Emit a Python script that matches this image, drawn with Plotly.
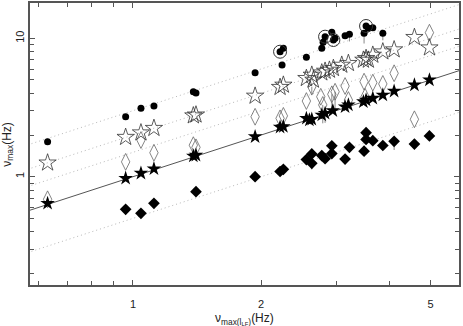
import plotly.graph_objects as go

# filled circles
circ_x = [0.630, 0.961, 1.044, 1.12, 1.386, 1.406, 1.936, 2.216, 2.256, 2.24, 2.555,
          2.777, 2.797, 2.827, 2.932, 2.957, 2.984, 3.150, 3.225, 3.491, 3.529, 3.573,
          3.660, 3.864]
circ_y = [1.79, 2.71, 3.12, 3.24, 4.11, 4.02, 5.64, 8.00, 8.47, 6.41, 7.29,
          8.47, 9.36, 10.27, 11.05, 9.72, 10.0, 10.44, 10.69, 10.87, 12.27, 11.81,
          11.93, 10.87]
circ_err = [0, 0, 0, 0, 0, 0, 0, 0, 0, 0, 0,
            0, 0, 0, 0, 0, 0, 0, 1.2, 1.7, 0, 0,
            0, 1.2]
# circles with an extra ring
ring_x = [2.216, 2.827, 2.957, 3.529]
ring_y = [8.00, 10.27, 9.72, 12.27]

# open stars
ostar_x = [0.630, 0.961, 1.044, 1.12, 1.386, 1.406, 1.936, 2.216, 2.256, 2.555, 2.631,
           2.654, 2.777, 2.827, 2.894, 2.957, 3.094, 3.207, 3.478, 3.529, 3.573, 3.660,
           3.864, 4.107, 4.584, 4.972]
ostar_y = [1.26, 1.93, 2.08, 2.24, 2.76, 2.80, 3.83, 4.43, 4.60, 5.14, 5.43,
           5.00, 5.64, 5.80, 5.90, 6.07, 6.41, 6.60, 6.97, 7.17, 6.97, 7.57,
           8.00, 8.28, 10.17, 8.55]

# open diamonds
odia_x = [0.630, 0.961, 1.044, 1.12, 1.386, 1.406, 1.936, 2.216, 2.256, 2.555, 2.631,
          2.762, 2.792, 2.932, 2.984, 3.150, 3.207, 3.491, 3.51, 3.660, 3.864, 4.107,
          4.972, 4.584]
odia_y = [0.687, 1.28, 1.84, 1.49, 1.69, 1.63, 2.71, 2.64, 2.75, 3.52, 4.47,
          3.78, 3.30, 3.94, 4.11, 4.52, 3.58, 4.86, 3.78, 4.78, 4.68, 5.59,
          10.98, 2.60]
odia_err = [0, 0, 0, 0, 0, 0, 0, 0, 0, 0, 0.5,
            0, 0.87, 1.07, 1.16, 0, 0.38, 0, 0.39, 0, 0, 0,
            0, 0]

# filled stars
fstar_x = [0.630, 0.961, 1.044, 1.12, 1.386, 1.406, 1.936, 2.216, 2.256, 2.555, 2.597,
           2.631, 2.777, 2.827, 2.948, 3.150, 3.207, 3.478, 3.529, 3.660, 3.864, 4.107,
           4.584, 4.972]
fstar_y = [0.642, 0.974, 1.06, 1.14, 1.41, 1.43, 1.945, 2.28, 2.30, 2.64, 2.57,
           2.60, 2.79, 2.87, 3.00, 3.20, 3.30, 3.48, 3.58, 3.69, 3.89, 4.15,
           4.60, 5.00]
fstar_err = [0, 0, 0, 0, 0, 0, 0, 0, 0, 0, 0,
             0, 0, 0.42, 0, 0, 0, 0, 0, 0, 0, 0,
             0, 0]

# filled diamonds
fdia_x = [0.961, 1.044, 1.12, 1.406, 1.936, 2.216, 2.256, 2.555, 2.631, 2.631, 2.777,
          2.827, 2.932, 2.932, 3.150, 3.225, 3.491, 3.529, 3.529, 3.660, 3.864, 4.107,
          4.584, 4.972]
fdia_y = [0.581, 0.544, 0.642, 0.779, 1.00, 1.09, 1.13, 1.33, 1.46, 1.25, 1.42,
          1.35, 1.67, 1.47, 1.34, 1.63, 1.53, 2.08, 1.86, 1.82, 1.68, 1.80,
          1.72, 1.97]
fdia_err = [0, 0, 0, 0, 0, 0, 0, 0, 0, 0.12, 0,
            0, 0, 0, 0, 0, 0, 0, 0, 0, 0, 0.24,
            0, 0]

# reference lines y = k * x
line_k = [3, 2, 1.5, 1, 0.5]
line_x = [0.5, 7]

fig = go.Figure()

for k in line_k:
   if k == 1:
      ln = dict(color="#555555", width=1)
   else:
      ln = dict(color="#b8b8b8", width=1, dash="1px,3px")
   fig.add_trace(go.Scatter(x=line_x, y=[k * v for v in line_x], mode="lines",
                            line=ln, hoverinfo="skip"))

def err(vals):
   return dict(type="data", symmetric=False, array=[0] * len(vals), arrayminus=vals,
               color="#888888", thickness=1, width=0)

fig.add_trace(go.Scatter(x=fdia_x, y=fdia_y, mode="markers", error_y=err(fdia_err),
                         marker=dict(symbol="diamond", size=9, color="black")))
fig.add_trace(go.Scatter(x=odia_x, y=odia_y, mode="markers", error_y=err(odia_err),
                         marker=dict(symbol="diamond-tall-open", size=12, color="#666666",
                                     line=dict(width=0.8))))
fig.add_trace(go.Scatter(x=fstar_x, y=fstar_y, mode="markers", error_y=err(fstar_err),
                         marker=dict(symbol="star", size=11, color="black")))
fig.add_trace(go.Scatter(x=ostar_x, y=ostar_y, mode="markers",
                         marker=dict(symbol="star-open", size=13, color="#333333",
                                     line=dict(width=0.8))))
fig.add_trace(go.Scatter(x=circ_x, y=circ_y, mode="markers", error_y=err(circ_err),
                         marker=dict(symbol="circle", size=7, color="black")))
fig.add_trace(go.Scatter(x=ring_x, y=ring_y, mode="markers",
                         marker=dict(symbol="circle-open", size=13, color="#333333",
                                     line=dict(width=1))))

axis_common = dict(type="log", showline=True, linecolor="#555555", linewidth=1.5,
                   mirror="allticks", ticks="inside", ticklen=5, tickcolor="#555555",
                   showgrid=False, zeroline=False, automargin=False,
                   tickfont=dict(family="Liberation Sans, Arial", size=11, color="#222"))

fig.update_layout(
   width=463, height=326,
   margin=dict(l=30, r=4, t=3, b=41),
   plot_bgcolor="white", paper_bgcolor="white",
   showlegend=False,
   font=dict(family="Liberation Sans, Arial", color="#222"),
   xaxis=dict(axis_common, range=[-0.242, 0.766],
              tickvals=[1, 2, 5], ticktext=["1", "2", "5"], ticklabelstandoff=8,
              minor=dict(tickvals=[0.6, 0.7, 0.8, 0.9, 3, 4], ticks="inside",
                         ticklen=4, tickcolor="#555555")),
   yaxis=dict(axis_common, range=[-0.7825, 1.255],
              tickvals=[1, 10], ticktext=["1", "10"], tickangle=-90,
              minor=dict(tickvals=[0.2, 0.3, 0.4, 0.5, 0.6, 0.7, 0.8, 0.9,
                                   2, 3, 4, 5, 6, 7, 8, 9],
                         ticks="inside", ticklen=4, tickcolor="#555555")),
   annotations=[
      dict(text="ν<sub>max(l<sub>LF</sub>)</sub>(Hz)", xref="paper", yref="paper",
           x=0.5, y=-0.12, xanchor="center", yanchor="middle", showarrow=False,
           font=dict(size=12)),
      dict(text="ν<sub>max</sub>(Hz)", xref="paper", yref="paper",
           x=-0.052, y=0.5, xanchor="center", yanchor="middle", showarrow=False,
           textangle=-90, font=dict(size=12)),
   ],
)

# drop the default page margin so the figure sits at the window's corner
fig.write_html("out.html", config={"displayModeBar": False},
               post_script="document.body.style.margin='0';")
